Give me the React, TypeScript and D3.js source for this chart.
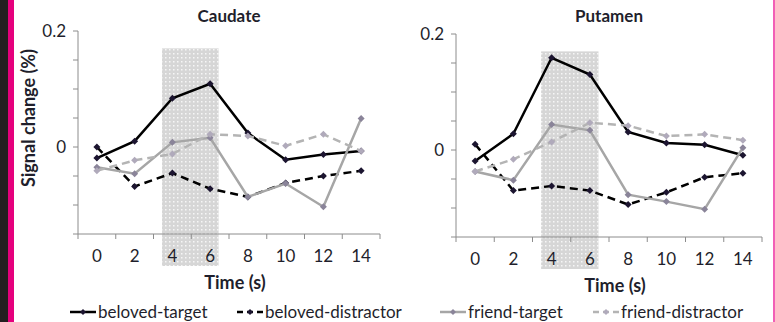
import React from "react";
import * as d3 from "d3";

// time points (s)
const times = [0, 2, 4, 6, 8, 10, 12, 14];
const yTicks = [-0.15, -0.1, -0.05, 0, 0.05, 0.1, 0.15, 0.2];
const yLabels: Record<string, string> = { "0": "0", "0.2": "0.2" };

// Caudate
const caudBelovedTarget = [-0.019, 0.01, 0.084, 0.109, 0.024, -0.022, -0.013, -0.007];
const caudBelovedDistractor = [0.0, -0.068, -0.045, -0.072, -0.086, -0.062, -0.05, -0.041];
const caudFriendTarget = [-0.035, -0.046, 0.008, 0.016, -0.086, -0.063, -0.103, 0.049];
const caudFriendDistractor = [-0.041, -0.023, -0.012, 0.022, 0.019, 0.002, 0.022, -0.007];

// Putamen
const putBelovedTarget = [-0.019, 0.028, 0.159, 0.13, 0.031, 0.012, 0.009, -0.009];
const putBelovedDistractor = [0.01, -0.07, -0.062, -0.07, -0.094, -0.073, -0.047, -0.04];
const putFriendTarget = [-0.037, -0.052, 0.044, 0.034, -0.077, -0.089, -0.102, 0.004];
const putFriendDistractor = [-0.037, -0.016, 0.014, 0.047, 0.042, 0.024, 0.027, 0.017];

// stimulus window (s)
const shadeStart = 3.45;
const shadeEnd = 6.45;
const shadeTop = 0.17;

const seriesNames = ["beloved-target", "beloved-distractor", "friend-target", "friend-distractor"];

const styles = [
  { stroke: "#000000", dash: "", marker: "#1c1530" },
  { stroke: "#000000", dash: "8,5", marker: "#1c1530" },
  { stroke: "#a6a6a6", dash: "", marker: "#8a8499" },
  { stroke: "#b4b4b4", dash: "8,5", marker: "#b0aabb" },
];

const font = "Lato, 'Liberation Sans', sans-serif";
const ink = "#1f1f2c";

function Diamond({ x, y, fill, r = 3.5 }: { x: number; y: number; fill: string; r?: number }) {
  return <path d={`M${x},${y - r}L${x + r},${y}L${x},${y + r}L${x - r},${y}Z`} fill={fill} />;
}

function Panel(props: {
  title: string;
  x0: number;
  x1: number;
  yTop: number;
  yBottom: number;
  data: number[][];
  showYLabel: boolean;
}) {
  const { title, x0, x1, yTop, yBottom, data, showYLabel } = props;
  const x = d3.scaleBand<number>().domain(times).range([x0, x1]).padding(0);
  const bw = x.bandwidth();
  const cx = (t: number) => (x(t) as number) + bw / 2;
  // continuous time for the shaded window
  const tx = d3.scaleLinear().domain([0, 14]).range([cx(0), cx(14)]);
  const y = d3.scaleLinear().domain([-0.15, 0.2]).range([yBottom, yTop]);

  const line = d3
    .line<number>()
    .x((d, i) => cx(times[i]))
    .y((d) => y(d));

  const tickEdges = times.map((t) => x(t) as number).concat([x1]);

  return (
    <g>
      <rect
        x={tx(shadeStart)}
        y={y(shadeTop)}
        width={tx(shadeEnd) - tx(shadeStart)}
        height={yBottom + 32 - y(shadeTop)}
        fill="url(#dots)"
      />
      {/* y axis */}
      <line x1={x0} x2={x0} y1={yTop} y2={yBottom} stroke="#8c8c8c" strokeWidth={1} />
      {yTicks.map((v) => (
        <g key={v}>
          <line x1={x0 - 5} x2={x0} y1={y(v)} y2={y(v)} stroke="#8c8c8c" />
          {yLabels[String(v)] !== undefined && (
            <text x={x0 - 12} y={y(v)} dy="0.35em" textAnchor="end" fontSize={17} fontFamily={font} fill={ink}>
              {yLabels[String(v)]}
            </text>
          )}
        </g>
      ))}
      {/* x axis */}
      <line x1={x0} x2={x1} y1={yBottom} y2={yBottom} stroke="#8c8c8c" strokeWidth={1} />
      {tickEdges.map((e, i) => (
        <line key={i} x1={e} x2={e} y1={yBottom} y2={yBottom + 5} stroke="#8c8c8c" />
      ))}
      {times.map((t) => (
        <text key={t} x={cx(t)} y={yBottom + 22} dy="0.35em" textAnchor="middle" fontSize={17} fontFamily={font} fill={ink}>
          {t}
        </text>
      ))}
      {/* series */}
      {data.map((vals, si) => (
        <g key={si}>
          <path d={line(vals) || ""} fill="none" stroke={styles[si].stroke} strokeWidth={2.5} strokeDasharray={styles[si].dash} />
          {vals.map((v, i) => (
            <Diamond key={i} x={cx(times[i])} y={y(v)} fill={styles[si].marker} />
          ))}
        </g>
      ))}
      <text x={(x0 + x1) / 2} y={16} dy="0.35em" textAnchor="middle" fontSize={17} fontWeight="bold" fontFamily={font} fill={ink}>
        {title}
      </text>
      <text x={(x0 + x1) / 2 + 6} y={yBottom + 49} dy="0.35em" textAnchor="middle" fontSize={18} fontWeight="bold" fontFamily={font} fill={ink}>
        Time (s)
      </text>
      {showYLabel && (
        <text
          transform={`translate(${x0 - 49},${y(0.05)}) rotate(-90)`}
          dy="0.35em"
          textAnchor="middle"
          fontSize={18}
          fontWeight="bold"
          fontFamily={font}
          fill={ink}
        >
          Signal change (%)
        </text>
      )}
    </g>
  );
}

const legendX = [70, 237, 440, 593];

export default function App() {
  return (
    <svg width={775} height={322} style={{ position: "absolute", left: 0, top: 0, background: "#fff" }}>
      <defs>
        <pattern id="dots" width={4} height={4} patternUnits="userSpaceOnUse">
          <rect width={4} height={4} fill="#d6d6d6" />
          <rect x={1} y={1} width={1.5} height={1.5} fill="#f6f6f6" />
        </pattern>
      </defs>
      <rect x={0} y={0} width={775} height={322} fill="#fff" />
      <rect x={0} y={0} width={8} height={322} fill="#231f20" />
      <rect x={8} y={0} width={6} height={322} fill="#e5007d" />
      <rect x={773} y={0} width={2} height={322} fill="#f25fb6" />

      <Panel
        title="Caudate"
        x0={78}
        x1={380}
        yTop={31}
        yBottom={234}
        data={[caudBelovedTarget, caudBelovedDistractor, caudFriendTarget, caudFriendDistractor]}
        showYLabel={true}
      />
      <Panel
        title="Putamen"
        x0={456}
        x1={762}
        yTop={34}
        yBottom={237}
        data={[putBelovedTarget, putBelovedDistractor, putFriendTarget, putFriendDistractor]}
        showYLabel={false}
      />

      {/* legend */}
      {seriesNames.map((name, i) => (
        <g key={name}>
          <line
            x1={legendX[i]}
            x2={legendX[i] + 26}
            y1={312}
            y2={312}
            stroke={styles[i].stroke}
            strokeWidth={2.5}
            strokeDasharray={styles[i].dash ? "6,4" : ""}
          />
          <Diamond x={legendX[i] + 13} y={312} fill={styles[i].marker} r={3} />
          <text x={legendX[i] + 28} y={312} dy="0.35em" fontSize={17} fontFamily={font} fill={ink}>
            {name}
          </text>
        </g>
      ))}
    </svg>
  );
}
